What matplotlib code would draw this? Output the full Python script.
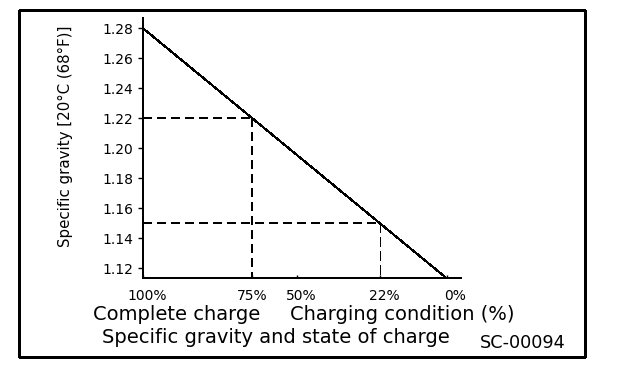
import matplotlib
matplotlib.use('Agg')
import matplotlib.pyplot as plt
from matplotlib.patches import Rectangle

# 字体与渲染设置（原图为无抗锯齿的线稿）
plt.rcParams['font.family'] = ['DejaVu Sans']
plt.rcParams['lines.scale_dashes'] = False
plt.rcParams['lines.antialiased'] = False
plt.rcParams['patch.antialiased'] = False

# 数据：比重与充电状态
gravity_ticks = [1.12, 1.14, 1.16, 1.18, 1.20, 1.22, 1.24, 1.26, 1.28]
charge_labels = ['100%', '75%', '50%', '22%', '0%']
# 横轴上各充电状态的位置（按比重刻度放置）
charge_pos = [1.28, 1.22, 1.1956, 1.15, 1.1133]
line_x = [1.28, 1.1133]
line_y = [1.28, 1.1133]
# 虚线标注的两个点
mark_gravity = [1.22, 1.15]

W, H = 624, 368
fig = plt.figure(figsize=(W / 100, H / 100), dpi=100)


def px(x, y):
    return x / W, 1 - y / H


# 外框
fig.add_artist(Rectangle(px(18.7, 356.7), (585 - 18.7) / W, (356.7 - 10) / H,
                         transform=fig.transFigure, fill=False, lw=0.8, ec='black'))

ax = fig.add_axes([143 / W, 1 - 278.3 / H, (460.7 - 143) / W, (278.3 - 18) / H])
ymin, ymax = 1.11333, 1.28687
xleft, xright = 1.28, 1.10565
ax.set_ylim(ymin, ymax)
ax.set_xlim(xleft, xright)

# 主线
ax.plot(line_x, line_y, color='black', lw=0.8, solid_capstyle='butt')

# 虚线
ax.plot([xleft, mark_gravity[0]], [mark_gravity[0], mark_gravity[0]], color='black',
        lw=1.4, dashes=(5.8, 3.6))
ax.plot([mark_gravity[0], mark_gravity[0]], [mark_gravity[0], ymin], color='black',
        lw=1.4, dashes=(5.8, 3.6))
ax.plot([xleft, mark_gravity[1]], [mark_gravity[1], mark_gravity[1]], color='black',
        lw=1.4, dashes=(5.8, 3.6))
ax.plot([mark_gravity[1], mark_gravity[1]], [mark_gravity[1], ymin], color='black',
        lw=0.7, dashes=(6.5, 2.9))

# 坐标轴样式
for s in ['top', 'right']:
    ax.spines[s].set_visible(False)
for s in ['left', 'bottom']:
    ax.spines[s].set_linewidth(1.3)

ax.set_yticks(gravity_ticks)
ax.set_yticklabels(['%.2f' % g for g in gravity_ticks])
ax.tick_params(axis='y', direction='out', length=3.5, width=1.0, pad=3.5, labelsize=10)

ax.set_xticks(charge_pos)
ax.set_xticklabels([''] * len(charge_pos))
ax.tick_params(axis='x', direction='in', length=2.5, width=1.0)

# 横轴刻度标签（原图位置略有偏移）
label_dx = [4, 0, 4, 4, 8]
for pos, lbl, dx in zip(charge_pos, charge_labels, label_dx):
    ax.annotate(lbl, xy=(pos, 0), xycoords=('data', 'axes fraction'),
                xytext=(dx, -22), textcoords='offset pixels',
                ha='center', va='baseline', fontsize=10)

# 文字
fig.text(*px(65, 136), 'Specific gravity [20°C (68°F)]', rotation=90,
         ha='center', va='center', fontsize=10.8)
fig.text(*px(93, 320), 'Complete charge', ha='left', va='baseline', fontsize=14)
fig.text(*px(290, 320), 'Charging condition (%)', ha='left', va='baseline', fontsize=14)
fig.text(*px(101.7, 343.3), 'Specific gravity and state of charge', ha='left',
         va='baseline', fontsize=14)
fig.text(*px(480, 348.3), 'SC-00094', ha='left', va='baseline', fontsize=12.7)

fig.savefig('out.png', dpi=100, facecolor='white')
